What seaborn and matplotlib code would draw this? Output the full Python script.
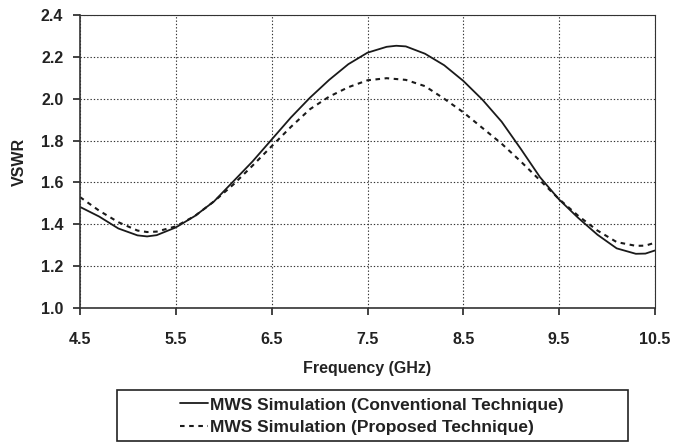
import pandas as pd
import seaborn as sns
import matplotlib.pyplot as plt
from matplotlib.patches import Rectangle

sns.set_theme(style="white")
plt.rcParams['font.family'] = ['Liberation Sans', 'DejaVu Sans']
plt.rcParams['font.weight'] = 'bold'

# Values
freq_conv = [4.5, 4.7, 4.9, 5.1, 5.2, 5.3, 5.5, 5.7, 5.9, 6.1, 6.3, 6.5, 6.7, 6.9,
             7.1, 7.3, 7.5, 7.7, 7.8, 7.9, 8.1, 8.3, 8.5, 8.7, 8.9, 9.1, 9.3,
             9.5, 9.7, 9.9, 10.1, 10.3, 10.4, 10.5]
vswr_conv = [1.483, 1.437, 1.38, 1.347, 1.342, 1.348, 1.385, 1.44, 1.51, 1.605,
             1.70, 1.805, 1.91, 2.005, 2.09, 2.165, 2.22, 2.248, 2.253, 2.25,
             2.215, 2.16, 2.085, 1.995, 1.89, 1.76, 1.625, 1.518, 1.43, 1.35,
             1.285, 1.259, 1.26, 1.275]

freq_prop = [4.5, 4.7, 4.9, 5.1, 5.2, 5.3, 5.5, 5.7, 5.9, 6.1, 6.3, 6.5, 6.7, 6.9,
             7.1, 7.3, 7.5, 7.7, 7.9, 8.1, 8.3, 8.5, 8.7, 8.9, 9.1, 9.3, 9.5,
             9.7, 9.9, 10.1, 10.3, 10.4, 10.5]
vswr_prop = [1.53, 1.465, 1.41, 1.37, 1.363, 1.365, 1.39, 1.44, 1.51, 1.59,
             1.68, 1.773, 1.865, 1.95, 2.01, 2.055, 2.088, 2.098, 2.09, 2.06,
             2.00, 1.935, 1.86, 1.785, 1.70, 1.61, 1.52, 1.44, 1.37, 1.315,
             1.297, 1.298, 1.312]

x_ticks = [4.5, 5.5, 6.5, 7.5, 8.5, 9.5, 10.5]
y_ticks = [1.0, 1.2, 1.4, 1.6, 1.8, 2.0, 2.2, 2.4]

label_conv = 'MWS Simulation (Conventional Technique)'
label_prop = 'MWS Simulation (Proposed Technique)'

fig = plt.figure(figsize=(6.88, 4.42), dpi=100)
ax = fig.add_axes([80 / 688, 1 - 308 / 442, 575 / 688, 293 / 442])

sns.lineplot(x=freq_conv, y=vswr_conv, ax=ax, color='#1a1a1a', linewidth=1.3,
             label=label_conv)
sns.lineplot(x=freq_prop, y=vswr_prop, ax=ax, color='#1a1a1a', linewidth=1.5,
             linestyle=(0, (2.2, 2.2)), label=label_prop)

ax.set_xlim(4.5, 10.5)
ax.set_ylim(1.0, 2.4)
ax.set_xticks(x_ticks)
ax.set_yticks(y_ticks)
ax.set_xticklabels([f'{t:.1f}' for t in x_ticks])
ax.set_yticklabels([f'{t:.1f}' for t in y_ticks])
ax.tick_params(axis='both', which='major', direction='out', length=5, width=1.2,
               color='#222222', labelsize=11.5, labelcolor='#222222',
               bottom=True, left=True)
ax.tick_params(axis='x', pad=12)
ax.tick_params(axis='y', pad=7)

ax.grid(True, linestyle=(0, (1.2, 1.8)), color='#333333', linewidth=0.8)
ax.set_axisbelow(True)
for side in ['left', 'bottom', 'top', 'right']:
    ax.spines[side].set_color('#333333')
    ax.spines[side].set_linewidth(1.2)
ax.spines['top'].set_linewidth(0.8)
ax.spines['right'].set_linewidth(0.8)

ax.set_xlabel('Frequency (GHz)', fontsize=11.5, fontweight='bold', color='#222222',
              labelpad=10)
ax.set_ylabel('VSWR', fontsize=11.5, fontweight='bold', color='#222222', labelpad=10)

handles, labels = ax.get_legend_handles_labels()
ax.get_legend().remove()
fig.legend(handles, labels, loc='center', bbox_to_anchor=(372 / 688, 1 - 416 / 442),
           frameon=False, fontsize=12.5, handlelength=1.6, handletextpad=0.15,
           labelspacing=0.4, borderpad=0, labelcolor='#222222')
fig.patches.append(Rectangle((117 / 688, 1 / 442), 511 / 688, 51 / 442,
                             transform=fig.transFigure, fill=False,
                             edgecolor='#222222', linewidth=1.2))

fig.savefig('out.png', dpi=100)
